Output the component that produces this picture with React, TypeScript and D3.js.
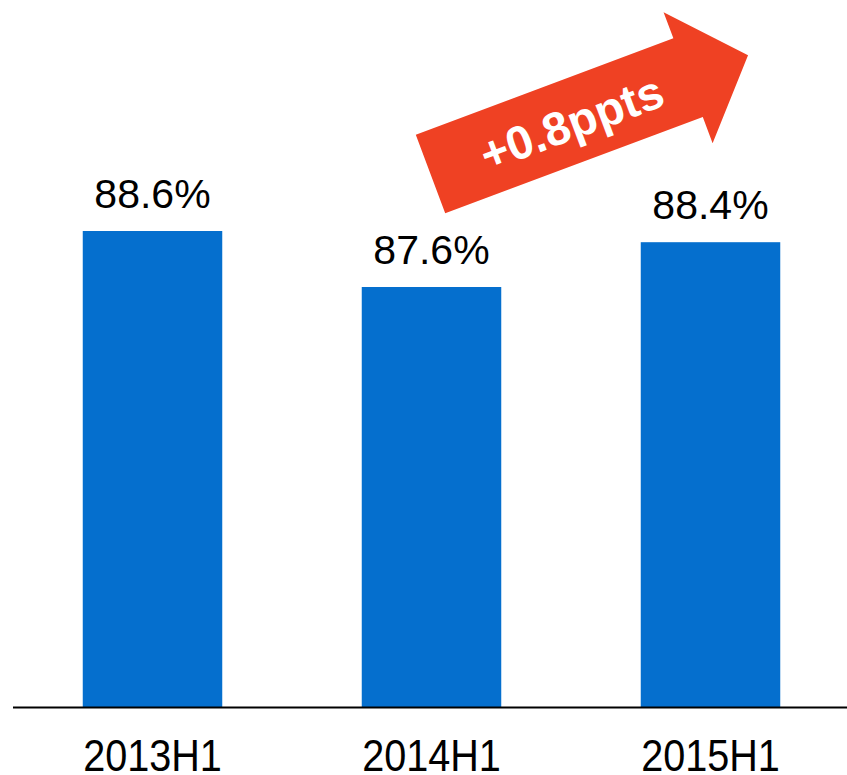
import React, { useEffect, useRef } from 'react';
import * as d3 from 'd3';

// data
const categories = ['2013H1', '2014H1', '2015H1'];
const values = [88.6, 87.6, 88.4];
const arrowLabel = '+0.8ppts';

const W = 847;
const H = 775;

export default function App() {
	const ref = useRef<SVGSVGElement>(null);

	useEffect(() => {
		const svg = d3.select(ref.current);
		svg.selectAll('*').remove();

		const baseline = 707;
		const x = d3.scaleBand()
			.domain(categories)
			.range([13, 850])
			.paddingInner(0.5)
			.paddingOuter(0.25);

		// axis starts well above zero, as in the original slide
		const y = d3.scaleLinear()
			.domain([80.1, 90])
			.range([baseline, baseline - 9.9 * 56]);

		const font = 'Arial, "Liberation Sans", Helvetica, sans-serif';

		svg.selectAll('rect.bar')
			.data(values)
			.enter()
			.append('rect')
			.attr('class', 'bar')
			.attr('x', (d, i) => x(categories[i]))
			.attr('y', d => y(d))
			.attr('width', x.bandwidth())
			.attr('height', d => baseline - y(d))
			.attr('fill', '#056FCE');

		svg.selectAll('text.val')
			.data(values)
			.enter()
			.append('text')
			.attr('class', 'val')
			.attr('x', (d, i) => x(categories[i]) + x.bandwidth() / 2)
			.attr('y', d => y(d) - 23)
			.attr('text-anchor', 'middle')
			.attr('font-family', font)
			.attr('font-size', 41)
			.attr('fill', '#000')
			.text(d => d.toFixed(1) + '%');

		// x axis line
		svg.append('line')
			.attr('x1', 13)
			.attr('x2', W)
			.attr('y1', baseline + 0.5)
			.attr('y2', baseline + 0.5)
			.attr('stroke', '#000')
			.attr('stroke-width', 2);

		// category labels, slightly condensed
		svg.selectAll('g.cat')
			.data(categories)
			.enter()
			.append('g')
			.attr('class', 'cat')
			.attr('transform', d => `translate(${x(d) + x.bandwidth() / 2},771) scale(0.88,1)`)
			.append('text')
			.attr('text-anchor', 'middle')
			.attr('font-family', font)
			.attr('font-size', 45)
			.attr('fill', '#000')
			.text(d => d);

		// red arrow annotation
		const shaft = 275, half = 42, headHalf = 70, headLen = 64;
		const pts: [number, number][] = [
			[0, -half], [shaft, -half], [shaft, -headHalf], [shaft + headLen, 0],
			[shaft, headHalf], [shaft, half], [0, half]
		];
		const g = svg.append('g')
			.attr('transform', 'translate(430.5,174) rotate(-20.5)');
		g.append('path')
			.attr('d', d3.line()(pts) + 'Z')
			.attr('fill', '#EF4123');
		g.append('text')
			.attr('x', 150)
			.attr('y', 18)
			.attr('text-anchor', 'middle')
			.attr('font-family', font)
			.attr('font-weight', 'bold')
			.attr('font-size', 47)
			.attr('fill', '#fff')
			.text(arrowLabel);
	}, []);

	return (
		<svg ref={ref} width={W} height={H}
			style={{ position: 'absolute', left: 0, top: 0, display: 'block', background: '#fff' }} />
	);
}
